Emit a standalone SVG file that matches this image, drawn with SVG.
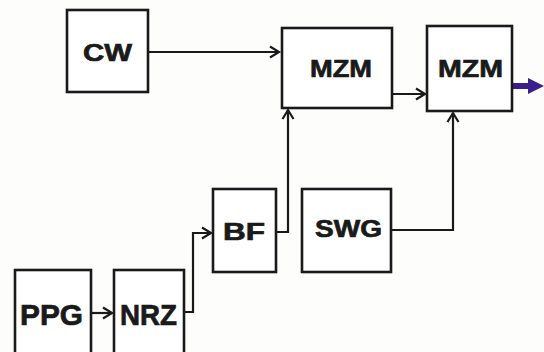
<svg xmlns="http://www.w3.org/2000/svg" width="544" height="352" viewBox="0 0 544 352">
<style>
.box{fill:#fff;stroke:#1a1a1a;stroke-width:2.6}
.lbl{font-family:"Liberation Sans",Arial,sans-serif;font-weight:bold;font-size:24.5px;fill:#1a1a1a;stroke:#1a1a1a;stroke-width:0.7;text-anchor:middle}
.big{font-size:30px}
.ln{fill:none;stroke:#1a1a1a;stroke-width:2.2}
</style>
<defs>
<marker id="ah" markerWidth="14" markerHeight="14" refX="11" refY="7" orient="auto" markerUnits="userSpaceOnUse">
<path d="M2,1.5 L11,7 L2,12.5" fill="none" stroke="#1a1a1a" stroke-width="2.2"/>
</marker>
</defs>
<rect width="544" height="352" fill="#fdfdfc"/>
<g id="connectors">
<path class="ln" d="M148,52 H279" marker-end="url(#ah)"/>
<path class="ln" d="M392,94 H425" marker-end="url(#ah)"/>
<path class="ln" d="M91,313 H112" marker-end="url(#ah)"/>
<path class="ln" d="M184,312 H193 V233 H211" marker-end="url(#ah)"/>
<path class="ln" d="M276,232 H288 V110" marker-end="url(#ah)"/>
<path class="ln" d="M391,230 H453 V113" marker-end="url(#ah)"/>
<path d="M512,86 H530" stroke="#3b1e8c" stroke-width="6" fill="none"/>
<path d="M528,78 L544,86 L528,94 Z" fill="#3b1e8c"/>
</g>
<g id="CW"><rect class="box" x="67" y="10" width="81" height="82"/><text class="lbl" x="107.5" y="61" textLength="49" lengthAdjust="spacingAndGlyphs">CW</text></g>
<g id="MZM1"><rect class="box" x="282" y="28" width="110" height="80"/><text class="lbl" x="341" y="77" textLength="62" lengthAdjust="spacingAndGlyphs">MZM</text></g>
<g id="MZM2"><rect class="box" x="427" y="26" width="85" height="85"/><text class="lbl" x="470.5" y="77" textLength="65" lengthAdjust="spacingAndGlyphs">MZM</text></g>
<g id="BF"><rect class="box" x="213" y="189" width="63" height="83"/><text class="lbl" x="244" y="240" textLength="42" lengthAdjust="spacingAndGlyphs">BF</text></g>
<g id="SWG"><rect class="box" x="302" y="189" width="89" height="83"/><text class="lbl" x="348.5" y="237" textLength="67" lengthAdjust="spacingAndGlyphs">SWG</text></g>
<g id="PPG"><rect class="box" x="15" y="270" width="76" height="90"/><text class="lbl big" x="51.5" y="325" textLength="63" lengthAdjust="spacingAndGlyphs">PPG</text></g>
<g id="NRZ"><rect class="box" x="114" y="270" width="70" height="90"/><text class="lbl big" x="148.5" y="325" textLength="57" lengthAdjust="spacingAndGlyphs">NRZ</text></g>
</svg>
